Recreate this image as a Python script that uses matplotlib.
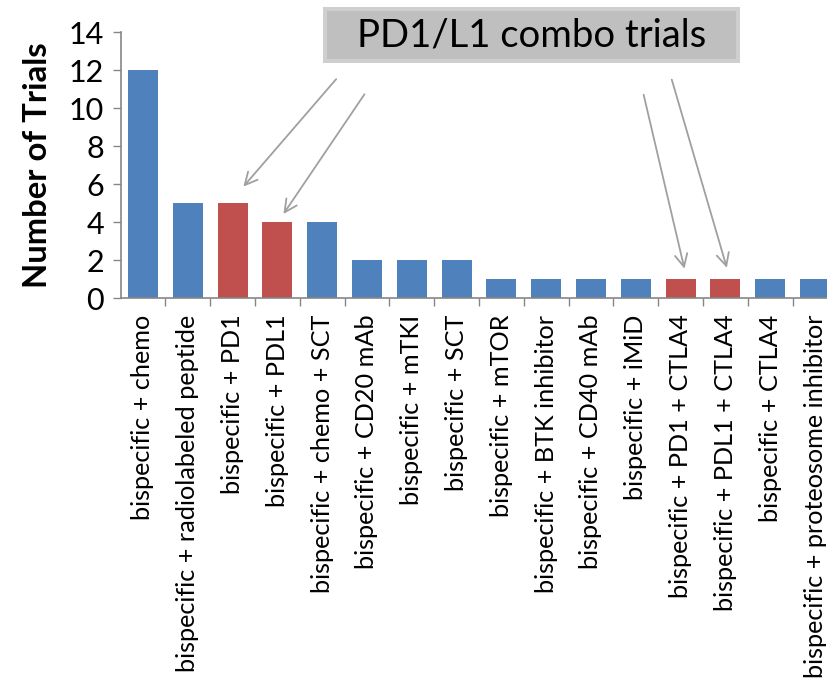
import matplotlib
matplotlib.use("Agg")
import matplotlib.pyplot as plt
from matplotlib.patches import Rectangle
import numpy as np

plt.rcParams['font.family'] = ['Lato', 'DejaVu Sans']

# chart data
categories = [
    'bispecific + chemo',
    'bispecific + radiolabeled peptide',
    'bispecific + PD1',
    'bispecific + PDL1',
    'bispecific + chemo + SCT',
    'bispecific + CD20 mAb',
    'bispecific + mTKI',
    'bispecific + SCT',
    'bispecific + mTOR',
    'bispecific + BTK inhibitor',
    'bispecific + CD40 mAb',
    'bispecific + iMiD',
    'bispecific + PD1 + CTLA4',
    'bispecific + PDL1 + CTLA4',
    'bispecific + CTLA4',
    'bispecific + proteosome inhibitor',
]
trials = [12, 5, 5, 4, 4, 2, 2, 2, 1, 1, 1, 1, 1, 1, 1, 1]
pd1_combo = ['bispecific + PD1', 'bispecific + PDL1',
             'bispecific + PD1 + CTLA4', 'bispecific + PDL1 + CTLA4']
y_ticks = [0, 2, 4, 6, 8, 10, 12, 14]

BLUE = '#4F81BD'
RED = '#C0504D'
GRAY = '#868686'

W, H = 827, 686
fig = plt.figure(figsize=(W / 100, H / 100), dpi=100)

# axes in pixel coords (x axis runs past the right edge, like the cropped original)
left, right, bottom, top = 120.6, 837.4, 298, 32
ax = fig.add_axes([left / W, 1 - bottom / H, (right - left) / W, (bottom - top) / H])

x = np.arange(len(categories))
colors = [RED if c in pd1_combo else BLUE for c in categories]
ax.bar(x, trials, width=0.67, color=colors, zorder=2)

ax.set_xlim(-0.5, len(categories) - 0.5)
ax.set_ylim(0, 14)
ax.set_yticks(y_ticks)
ax.set_yticklabels([str(t) for t in y_ticks], fontsize=22)
ax.set_ylabel('Number of Trials', fontsize=23.7, fontweight='bold', labelpad=12)

# category labels, ticks sit between categories
ax.set_xticks(x)
ax.set_xticklabels(categories, rotation=90, fontsize=18.2, va='top', ha='center')
ax.tick_params(axis='x', length=0, pad=12)
ax.set_xticks(np.arange(0.5, len(categories) - 0.5), minor=True)
ax.tick_params(axis='x', which='minor', length=6, color=GRAY, width=1)
ax.tick_params(axis='y', length=6, color=GRAY, width=1, pad=6)

for s in ['top', 'right']:
    ax.spines[s].set_visible(False)
for s in ['left', 'bottom']:
    ax.spines[s].set_color(GRAY)
    ax.spines[s].set_linewidth(1.2)

# annotation box (figure pixels, origin bottom-left)
bx0, bx1, by0, by1 = 323, 740, H - 63, H - 7
fig.patches.append(Rectangle((bx0, by0), bx1 - bx0, by1 - by0, transform=None,
                             facecolor='#cfcfcf', edgecolor='none', zorder=3))
fig.patches.append(Rectangle((bx0 + 4, by0 + 4), bx1 - bx0 - 8, by1 - by0 - 8, transform=None,
                             facecolor='#bfbfbf', edgecolor='none', zorder=4))
fig.text((bx0 + bx1) / 2 / W, (by0 + by1) / 2 / H, 'PD1/L1 combo trials',
         fontsize=27.5, ha='center', va='center', color='black', zorder=5)

# arrows: tail in figure pixels, head at the bar top
arrows = [
    ((338, 77), (2.2, 5.75)),
    ((366, 92), (3.1, 4.3)),
    ((643, 92), (12.1, 1.4)),
    ((671, 77), (13.05, 1.45)),
]
for (tx, ty), (hx, hy) in arrows:
    ax.annotate('', xy=(hx, hy), xycoords='data',
                xytext=(tx, H - ty), textcoords='figure pixels',
                arrowprops=dict(arrowstyle='->,head_length=0.9,head_width=0.45',
                                color='#a0a0a0', lw=1.3),
                annotation_clip=False)

fig.savefig('out.png', dpi=100)
